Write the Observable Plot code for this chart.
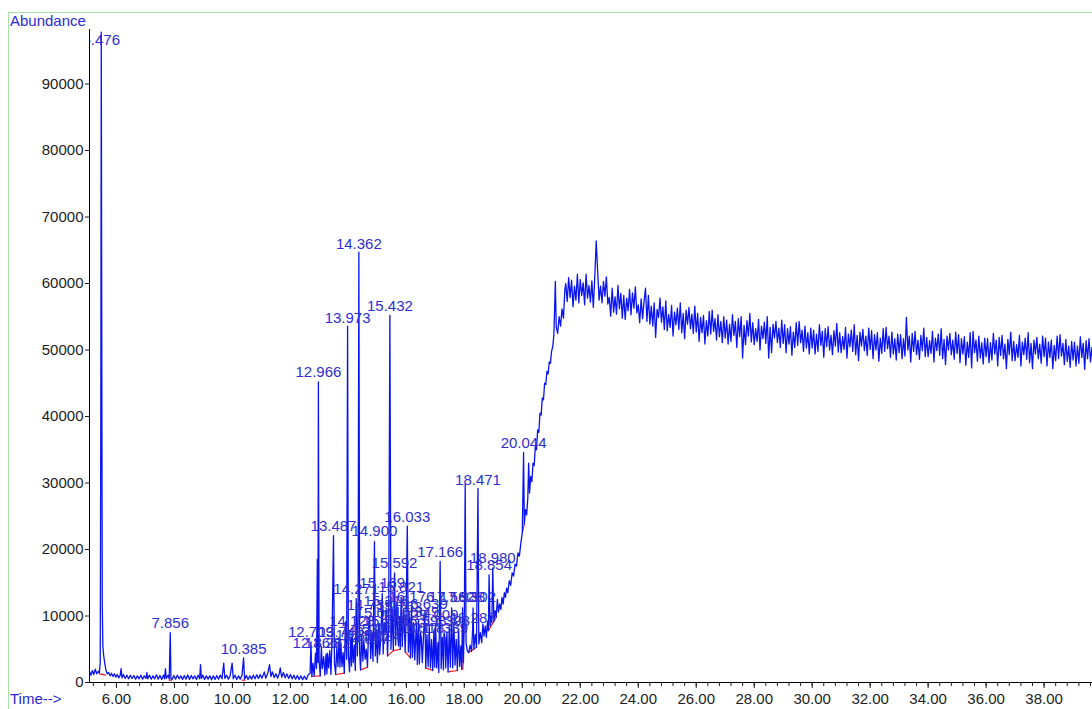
<!DOCTYPE html>
<html><head><meta charset="utf-8">
<script src="https://cdn.jsdelivr.net/npm/d3@7"></script>
<script src="https://cdn.jsdelivr.net/npm/@observablehq/plot@0.6"></script>
<style>
body{margin:0;background:#fff;overflow:hidden;font-family:"Liberation Sans",Arial,sans-serif;}
#wrap{position:relative;width:1092px;height:709px;overflow:hidden;}
#frame{position:absolute;left:8px;top:12px;width:1300px;height:900px;border:1px solid #a6e3a6;box-sizing:border-box;}
#chart{position:absolute;left:0;top:0;}
#chart svg{display:block;}
.lbl{position:absolute;color:#2a2ad6;font-size:15px;line-height:17px;white-space:nowrap;}
</style></head><body>
<div id="wrap"><div id="frame"></div><div id="chart"></div>
<div class="lbl" style="left:10px;top:12px">Abundance</div>
<div class="lbl" style="left:10px;top:690px">Time--&gt;</div>
</div>
<script>
// ---- tick values ----
const yTicks = [0,10000,20000,30000,40000,50000,60000,70000,80000,90000];
const xTicks = [6,8,10,12,14,16,18,20,22,24,26,28,30,32,34,36,38];
const xMinorStep = 0.4;

// ---- TIC trace, [time (min), abundance] ----
const traceEarly = [
[5.07,1700],[5.12,1100],[5.17,1800],[5.22,1200],[5.27,2000],[5.32,1300],[5.37,1700],[5.41,1400],[5.44,3000],[5.46,40000],[5.476,97800],[5.49,60000],[5.51,12000],[5.53,5500],[5.56,4000],[5.60,2800],[5.64,1800],[5.68,1300],[5.73,1500],[5.78,1000],[5.83,1400],[5.88,900],[5.93,1300],[5.98,800],[6.03,1200],[6.08,700],[6.13,1100],[6.16,2100],[6.19,700],[6.24,1200],[6.30,600],[6.36,1100],[6.42,550],[6.48,1100],[6.54,600],[6.60,1050],[6.66,500],[6.72,1000],[6.78,550],[6.84,1100],[6.90,500],[6.96,1000],[7.02,600],[7.05,1500],[7.08,550],[7.14,1100],[7.20,500],[7.26,1000],[7.32,550],[7.38,1150],[7.44,500],[7.50,1050],[7.56,450],[7.62,1100],[7.66,550],[7.69,2100],[7.72,600],[7.78,1100],[7.82,500],[7.856,7500],[7.88,600],[7.92,450],[7.98,1050],[8.04,500],[8.10,1100],[8.16,550],[8.22,1000],[8.28,450],[8.34,1050],[8.40,500],[8.46,1150],[8.52,450],[8.58,1050],[8.64,550],[8.70,1000],[8.76,450],[8.82,1100],[8.87,550],[8.90,2700],[8.93,600],[8.98,1100],[9.04,450],[9.10,1000],[9.16,500],[9.22,1000],[9.28,400],[9.34,1000],[9.40,450],[9.46,1050],[9.52,500],[9.58,1100],[9.64,550],[9.70,2900],[9.74,600],[9.80,1100],[9.86,500],[9.92,1000],[9.99,2900],[10.03,550],[10.09,1100],[10.15,450],[10.21,1000],[10.27,500],[10.33,1100],[10.385,3700],[10.42,500],[10.48,1050],[10.54,450],[10.60,1000],[10.66,500],[10.72,1100],[10.78,550],[10.84,1150],[10.90,600],[10.96,1200],[11.02,650],[11.10,1600],[11.15,650],[11.22,1400],[11.28,2700],[11.33,900],[11.38,1600],[11.44,750],[11.50,1300],[11.56,650],[11.62,1400],[11.65,2200],[11.70,800],[11.76,1500],[11.82,700],[11.88,1300],[11.94,600],[12.00,1200],[12.06,550],[12.12,1100],[12.18,500],[12.24,1050],[12.30,450],[12.36,1000],[12.42,400],[12.48,950],[12.55,450],[12.60,1000],[12.65,1300]
];
const tracePeaks = [
[12.68,1400],[12.709,6100],[12.74,900],[12.78,2900],[12.82,1000],[12.866,4400],[12.90,2100],[12.93,18500],[12.95,3000],[12.966,45200],[12.99,3200],[13.03,1000],[13.07,5400],[13.10,2100],[13.15,3900],[13.19,1100],[13.23,4300],[13.26,1300],[13.282,4400],[13.32,2200],[13.36,4800],[13.40,1200],[13.44,7100],[13.487,22100],[13.52,3000],[13.56,1200],[13.60,5200],[13.64,2400],[13.68,6800],[13.71,2300],[13.740,6000],[13.78,2400],[13.82,4500],[13.86,1400],[13.90,9100],[13.94,3500],[13.973,53600],[14.00,4100],[14.04,1600],[14.08,6600],[14.11,2500],[14.128,7600],[14.17,3000],[14.21,5600],[14.24,1800],[14.271,12600],[14.31,4000],[14.335,9100],[14.362,64700],[14.39,4500],[14.42,1900],[14.46,7000],[14.50,3200],[14.533,6400],[14.58,3500],[14.617,5000],[14.66,2300],[14.70,8500],[14.735,10000],[14.77,3600],[14.81,7500],[14.85,3200],[14.900,21200],[14.93,4000],[14.97,8000],[15.00,3000],[15.024,5400],[15.041,8900],[15.08,4200],[15.12,6800],[15.169,13400],[15.20,4300],[15.24,9000],[15.280,7600],[15.316,10700],[15.35,4000],[15.39,8500],[15.432,55200],[15.47,5000],[15.51,11000],[15.55,4800],[15.592,16500],[15.63,5600],[15.67,12000],[15.710,6600],[15.73,5500],[15.763,9800],[15.79,5000],[15.821,12800],[15.86,5400],[15.90,11000],[15.929,8600],[15.96,4600],[15.99,9500],[16.033,23500],[16.07,4600],[16.11,9800],[16.14,3700],[16.176,11300],[16.21,3800],[16.25,9000],[16.29,3400],[16.349,9000],[16.38,2700],[16.42,9500],[16.45,2800],[16.49,7500],[16.518,6600],[16.55,3000],[16.598,7600],[16.639,10200],[16.67,2200],[16.71,7200],[16.75,2400],[16.79,8500],[16.83,2200],[16.87,6500],[16.91,1800],[16.95,7800],[16.98,2300],[17.009,8600],[17.05,2200],[17.09,6000],[17.12,1500],[17.166,18200],[17.20,2100],[17.24,6800],[17.28,1900],[17.30,7500],[17.339,6600],[17.36,2200],[17.398,7600],[17.44,1600],[17.48,8200],[17.52,2300],[17.562,11200],[17.60,2200],[17.64,9000],[17.68,2600],[17.72,6500],[17.76,1800],[17.80,8000],[17.84,2400],[17.88,5500],[17.91,2000],[17.938,11200],[17.97,3000],[18.00,9500],[18.03,29800],[18.06,6000],[18.10,4800],[18.15,4500],[18.20,5600],[18.25,4700],[18.287,8000],[18.302,11200],[18.33,5000],[18.38,7200],[18.42,5300],[18.471,29200],[18.50,5800],[18.55,7500],[18.60,6000],[18.64,8800],[18.68,7000],[18.72,8500],[18.76,6800],[18.80,9200],[18.83,7800],[18.854,16200],[18.89,8500],[18.93,10000],[18.95,9000],[18.980,17200],[19.02,9200],[19.06,10800],[19.10,9800],[19.14,12500],[19.18,10600],[19.22,11800],[19.26,11000],[19.30,12800],[19.34,11800],[19.38,13500],[19.42,12800],[19.46,14200],[19.50,13500],[19.55,15300],[19.60,14600],[19.65,16500],[19.70,16000],[19.75,17800],[19.80,17500],[19.85,19500],[19.90,19000],[19.95,21000],[20.00,22500],[20.044,34600],[20.07,23800],[20.11,26000],[20.15,25200],[20.19,27800],[20.22,33000],[20.25,28500],[20.29,31000],[20.33,30200],[20.37,33000],[20.41,32600],[20.45,35500],[20.49,35000],[20.53,38000],[20.57,37600],[20.61,40500],[20.65,40200],[20.69,42800],[20.73,42500],[20.77,45000],[20.81,44800],[20.85,46800],[20.89,46400],[20.93,48200],[20.97,48000],[21.01,49800],[21.05,50500],[21.09,52300],[21.14,60300],[21.17,53500],[21.22,52500],[21.27,55000],[21.32,53600],[21.37,56200],[21.42,54800],[21.47,59200]
];
const tracePlateau = [
[21.50,60000],[21.55,57300],[21.60,60900],[21.65,57900],[21.70,60500],[21.75,56500],[21.80,59600],[21.85,57500],[21.90,61400],[21.95,57100],
[22.00,60600],[22.05,58200],[22.10,60100],[22.15,56800],[22.20,61400],[22.25,57800],[22.30,59700],[22.35,57200],[22.40,60400],[22.45,56400],[22.50,60900],[22.55,66400],[22.60,61800],[22.65,57500],[22.70,59600],[22.75,57100],[22.80,60300],[22.85,58100],[22.90,61000],[22.95,56900],
[23.00,57900],[23.05,55100],[23.10,59300],[23.15,55700],[23.20,58000],[23.25,55400],[23.30,59700],[23.35,56200],[23.40,58500],[23.45,54800],[23.50,58200],[23.55,54600],[23.60,57800],[23.65,55900],[23.70,59100],[23.75,55300],[23.80,58600],[23.85,56300],[23.90,59500],[23.95,55600],
[24.00,56800],[24.05,54100],[24.10,57700],[24.15,54700],[24.20,57300],[24.25,59300],[24.30,54300],[24.35,58200],[24.40,53900],[24.45,56600],[24.50,53600],[24.55,57100],[24.60,51900],[24.65,56100],[24.70,54900],[24.75,57800],[24.80,54200],[24.85,56500],[24.90,53100],[24.95,57400],
[25.00,52900],[25.05,55300],[25.10,53400],[25.15,56700],[25.20,52100],[25.25,55700],[25.30,53800],[25.35,56300],[25.40,53100],[25.45,57100],[25.50,52600],[25.55,55500],[25.60,51700],[25.65,56000],[25.70,53900],[25.75,56400],[25.80,53200],[25.85,55400],[25.90,52500],[25.95,56600],
[26.00,52700],[26.05,55500],[26.10,51300],[26.15,54900],[26.20,52600],[26.25,55200],[26.30,50900],[26.35,54400],[26.40,52100],[26.45,55800],[26.50,52400],[26.55,56000],[26.60,52800],[26.65,54700],[26.70,51500],[26.75,55300],[26.80,52000],[26.85,54300],[26.90,51100],[26.95,55000],
[27.00,51800],[27.05,54500],[27.10,50900],[27.15,53900],[27.20,51300],[27.25,55300],[27.30,52200],[27.35,54300],[27.40,50400],[27.45,54700],[27.50,52000],[27.55,55000],[27.60,48800],[27.65,53700],[27.70,50800],[27.75,54400],[27.80,52100],[27.85,55500],[27.90,51200],[27.95,54100],
[28.00,50800],[28.05,53200],[28.10,51300],[28.15,54600],[28.20,50000],[28.25,53600],[28.30,51700],[28.35,54200],[28.40,51000],[28.45,55000],[28.50,48800],[28.55,53400],[28.60,49600],[28.65,53900],[28.70,51800],[28.75,54300],[28.80,51100],[28.85,53300],[28.90,50400],[28.95,54500],
[29.00,51000],[29.05,53800],[29.10,49600],[29.15,53200],[29.20,50900],[29.25,53500],[29.30,49200],[29.35,52700],[29.40,50400],[29.45,54100],[29.50,50700],[29.55,54300],[29.60,51100],[29.65,53000],[29.70,49800],[29.75,53600],[29.80,50300],[29.85,52600],[29.90,49400],[29.95,53300],
[30.00,50300],[30.05,53000],[30.10,49400],[30.15,52400],[30.20,49800],[30.25,53800],[30.30,50700],[30.35,52800],[30.40,48900],[30.45,53200],[30.50,50500],[30.55,53500],[30.60,50000],[30.65,52200],[30.70,49300],[30.75,52900],[30.80,50600],[30.85,54000],[30.90,49700],[30.95,52600],
[31.00,49600],[31.05,52000],[31.10,50100],[31.15,53400],[31.20,48800],[31.25,52400],[31.30,50500],[31.35,53000],[31.40,49800],[31.45,53800],[31.50,49300],[31.55,52200],[31.60,48400],[31.65,52700],[31.70,50600],[31.75,53100],[31.80,49900],[31.85,52100],[31.90,49200],[31.95,53300],
[32.00,50100],[32.05,52900],[32.10,48700],[32.15,52300],[32.20,50000],[32.25,52600],[32.30,48300],[32.35,51800],[32.40,49500],[32.45,53200],[32.50,49800],[32.55,53400],[32.60,50200],[32.65,52100],[32.70,48900],[32.75,52700],[32.80,49400],[32.85,51700],[32.90,48500],[32.95,52400],
[33.00,49600],[33.05,52300],[33.10,48700],[33.15,51700],[33.20,49100],[33.25,54900],[33.30,50000],[33.35,52100],[33.40,48200],[33.45,52500],[33.50,49800],[33.55,52800],[33.60,49300],[33.65,51500],[33.70,48600],[33.75,52200],[33.80,49900],[33.85,53300],[33.90,49000],[33.95,51900],
[34.00,49000],[34.05,51400],[34.10,49500],[34.15,52800],[34.20,48200],[34.25,51800],[34.30,49900],[34.35,52400],[34.40,49200],[34.45,53200],[34.50,48700],[34.55,51600],[34.60,47800],[34.65,52100],[34.70,50000],[34.75,52500],[34.80,49300],[34.85,51500],[34.90,48600],[34.95,52700],
[35.00,49500],[35.05,52300],[35.10,48100],[35.15,51700],[35.20,49400],[35.25,52000],[35.30,47700],[35.35,51200],[35.40,48900],[35.45,52600],[35.50,47300],[35.55,52800],[35.60,49600],[35.65,51500],[35.70,48300],[35.75,52100],[35.80,48800],[35.85,51100],[35.90,47900],[35.95,51800],
[36.00,49000],[36.05,51700],[36.10,48100],[36.15,51100],[36.20,48500],[36.25,52500],[36.30,49400],[36.35,51500],[36.40,47600],[36.45,51900],[36.50,49200],[36.55,52200],[36.60,48700],[36.65,50900],[36.70,47200],[36.75,51600],[36.80,49300],[36.85,52700],[36.90,48400],[36.95,51300],
[37.00,48400],[37.05,50800],[37.10,48900],[37.15,52200],[37.20,47600],[37.25,51200],[37.30,49300],[37.35,51800],[37.40,48600],[37.45,52600],[37.50,48100],[37.55,51000],[37.60,47200],[37.65,51500],[37.70,49400],[37.75,51900],[37.80,48700],[37.85,50900],[37.90,48000],[37.95,52100],
[38.00,49000],[38.05,51800],[38.10,47600],[38.15,51200],[38.20,48900],[38.25,51500],[38.30,47200],[38.35,50700],[38.40,48400],[38.45,52100],[38.50,48700],[38.55,52300],[38.60,49100],[38.65,51000],[38.70,47800],[38.75,51600],[38.80,48300],[38.85,50600],[38.90,47400],[38.95,51300],
[39.00,48500],[39.05,51200],[39.10,47600],[39.15,50600],[39.20,48000],[39.25,52000],[39.30,48900],[39.35,51000],[39.40,47100],[39.45,51400],[39.50,48700],[39.55,51700],[39.60,48200],[39.65,50400],[39.70,47500]
];

// ---- integration baselines (red), [segment, time, abundance] ----
const baselineSegments = [
["a",5.42,1300],["a",5.62,1100],
["b",7.82,350],["b",7.90,350],
["c",10.34,350],["c",10.43,350],
["d",12.74,900],["d",13.03,1000],
["e",13.56,1200],["e",13.86,1400],
["f",14.42,1900],["f",14.66,2300],
["g",15.35,4000],["g",15.55,4800],["g",15.79,5000],
["h",15.96,4600],["h",16.14,3700],
["i",16.67,2200],["i",16.91,1800],
["j",17.44,1600],["j",17.76,1800],
["k",17.91,2000],["k",17.95,2000],["k",17.96,3800],
["l",18.15,4500],["l",18.42,5300],
["m",18.83,7800],["m",19.10,9800],
["n",20.00,22500],["n",20.07,23800]
];

// ---- peak labels, [retention time label, label baseline abundance] ----
const peakLabels = [
["5.476",95850],["7.856",8125],["10.385",4213],["12.966",45890],["13.973",54020],["14.362",65150],["15.432",55820],
["13.487",22720],["14.900",21970],["16.033",24070],["15.592",17150],["17.166",18810],["18.471",29640],["20.044",35210],
["18.980",17900],["18.854",16850],["14.271",13240],["15.169",14140],["15.821",13540]
];
const clusterLabels = [
["12.709",6770],["12.866",5116],["13.282",5116],["13.740",6770],["14.128",8426],["14.735",10830],["14.533",7222],["14.617",5718],
["15.041",9630],["15.280",8426],["15.316",11435],["15.710",7373],["15.763",10530],["15.929",9330],["16.176",12040],["16.349",9780],
["16.518",7373],["16.639",10980],["16.598",8426],["17.009",9330],["17.339",7373],["17.398",8426],["17.562",12040],["17.938",12040],
["18.287",8877],["18.302",12040],["14.350",6320],["15.024",6169]
];

// ---- build tables ----
const traceRows = [...traceEarly, ...tracePeaks, ...tracePlateau].map(([t,a]) => ({t, a}));
const baseRows = baselineSegments.map(([s,t,a]) => ({s, t, a}));
const labelRows = [...peakLabels, ...clusterLabels].map(([label,a]) => ({label, t: +label, a}));
const xMinorTicks = d3.range(5.2, 39.7, xMinorStep);

const chart = Plot.plot({
  width: 1092, height: 709,
  marginLeft: 89, marginRight: 0, marginTop: 29, marginBottom: 27,
  x: {domain: [5.07, 39.67]},
  y: {domain: [0, 98200]},
  style: {fontFamily: '"Liberation Sans", Arial, sans-serif', fontSize: "15px", color: "#1c1c1c", background: "transparent"},
  marks: [
    Plot.line(baseRows, {x: "t", y: "a", z: "s", stroke: "#f01818", strokeWidth: 1.2, clip: true}),
    Plot.line(traceRows, {x: "t", y: "a", stroke: "#0a14f0", strokeWidth: 1.3, clip: true}),
    Plot.text(labelRows, {x: "t", y: "a", text: "label", lineAnchor: "bottom", fill: "#2e2ed4", fontSize: 15, clip: true}),
    Plot.axisY({ticks: yTicks, tickSize: 4, tickPadding: 2, tickFormat: d => String(d), label: null}),
    Plot.axisX({ticks: xTicks, tickSize: 6, tickPadding: 5, tickFormat: d => d.toFixed(2), label: null}),
    Plot.axisX({ticks: xMinorTicks, tickSize: 4, tickFormat: () => "", label: null}),
    Plot.frame({anchor: "left", stroke: "#000"}),
    Plot.frame({anchor: "bottom", stroke: "#000"})
  ]
});
document.getElementById("chart").appendChild(chart);
</script>
</body></html>
